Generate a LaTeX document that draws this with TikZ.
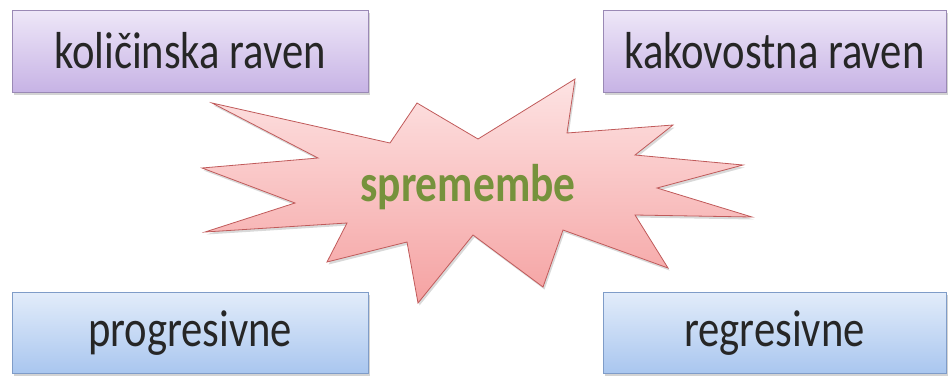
\documentclass[tikz,border=0pt]{standalone}
\usepackage{fontspec}
\setmainfont{Carlito}
\usepackage{graphicx}
\usepackage{tikz}
\usetikzlibrary{shadows}
\usepackage{xcolor}
\definecolor{lilatop}{HTML}{EEE7F8}
\definecolor{lilabot}{HTML}{C7B3E5}
\definecolor{lilaline}{HTML}{9A89B5}
\definecolor{modtop}{HTML}{E2ECFA}
\definecolor{modbot}{HTML}{A9C6EF}
\definecolor{modline}{HTML}{7F9CC8}
\definecolor{rozatop}{HTML}{FDE3E3}
\definecolor{rozabot}{HTML}{F5A2A2}
\definecolor{rozaline}{HTML}{C05A5A}
\definecolor{olivno}{HTML}{76923C}

% ozko postavljen napis
\newcommand{\ozko}[1]{\scalebox{0.82}[1]{#1}}

\tikzset{
  ravenbox/.style={draw=lilaline,top color=lilatop,bottom color=lilabot,
    minimum width=356pt,minimum height=82pt,inner sep=0pt,
    drop shadow={shadow xshift=1.5pt,shadow yshift=-2.5pt,opacity=.35},
    text=black!85,font=\fontsize{52}{56}\selectfont},
  smerbox/.style={draw=modline,top color=modtop,bottom color=modbot,
    minimum width=356pt,minimum height=81pt,inner sep=0pt,
    drop shadow={shadow xshift=1.5pt,shadow yshift=-2.5pt,opacity=.35},
    text=black!85,font=\fontsize{52}{56}\selectfont},
}

\begin{document}
\begin{tikzpicture}[x=1pt,y=-1pt]
  \useasboundingbox (0,0) rectangle (949,376);

  % zvezda
  \draw[rozaline,line width=0.8pt,top color=rozatop,bottom color=rozabot,
        drop shadow={shadow xshift=1.5pt,shadow yshift=-2.5pt,opacity=.3}]
    (212,103)--(390,143)--(417,103)--(478,139)--(575,79)--(567,133)
    --(673,125)--(635,155)--(743,165)--(657,188)--(752,217)--(635,215)
    --(668,268)--(563,230)--(543,287)--(473,235)--(418,303)--(407,242)
    --(327,262)--(347,223)--(205,232)--(295,203)--(202,168)--(318,158)--cycle;
  \node[text=olivno,font=\fontsize{53}{56}\selectfont\bfseries] (spremembe) at (468,187) {\ozko{spremembe}};

  % ravni
  \node[ravenbox] (kolicina) at (190,51) {\ozko{količinska raven}};
  \node[ravenbox,minimum width=343pt] (kakovost) at (774.5,51) {\ozko{kakovostna raven}};

  % smeri
  \node[smerbox] (progres) at (190,333) {\ozko{progresivne}};
  \node[smerbox,minimum width=343pt] (regres) at (774.5,333) {\ozko{regresivne}};
\end{tikzpicture}
\end{document}
